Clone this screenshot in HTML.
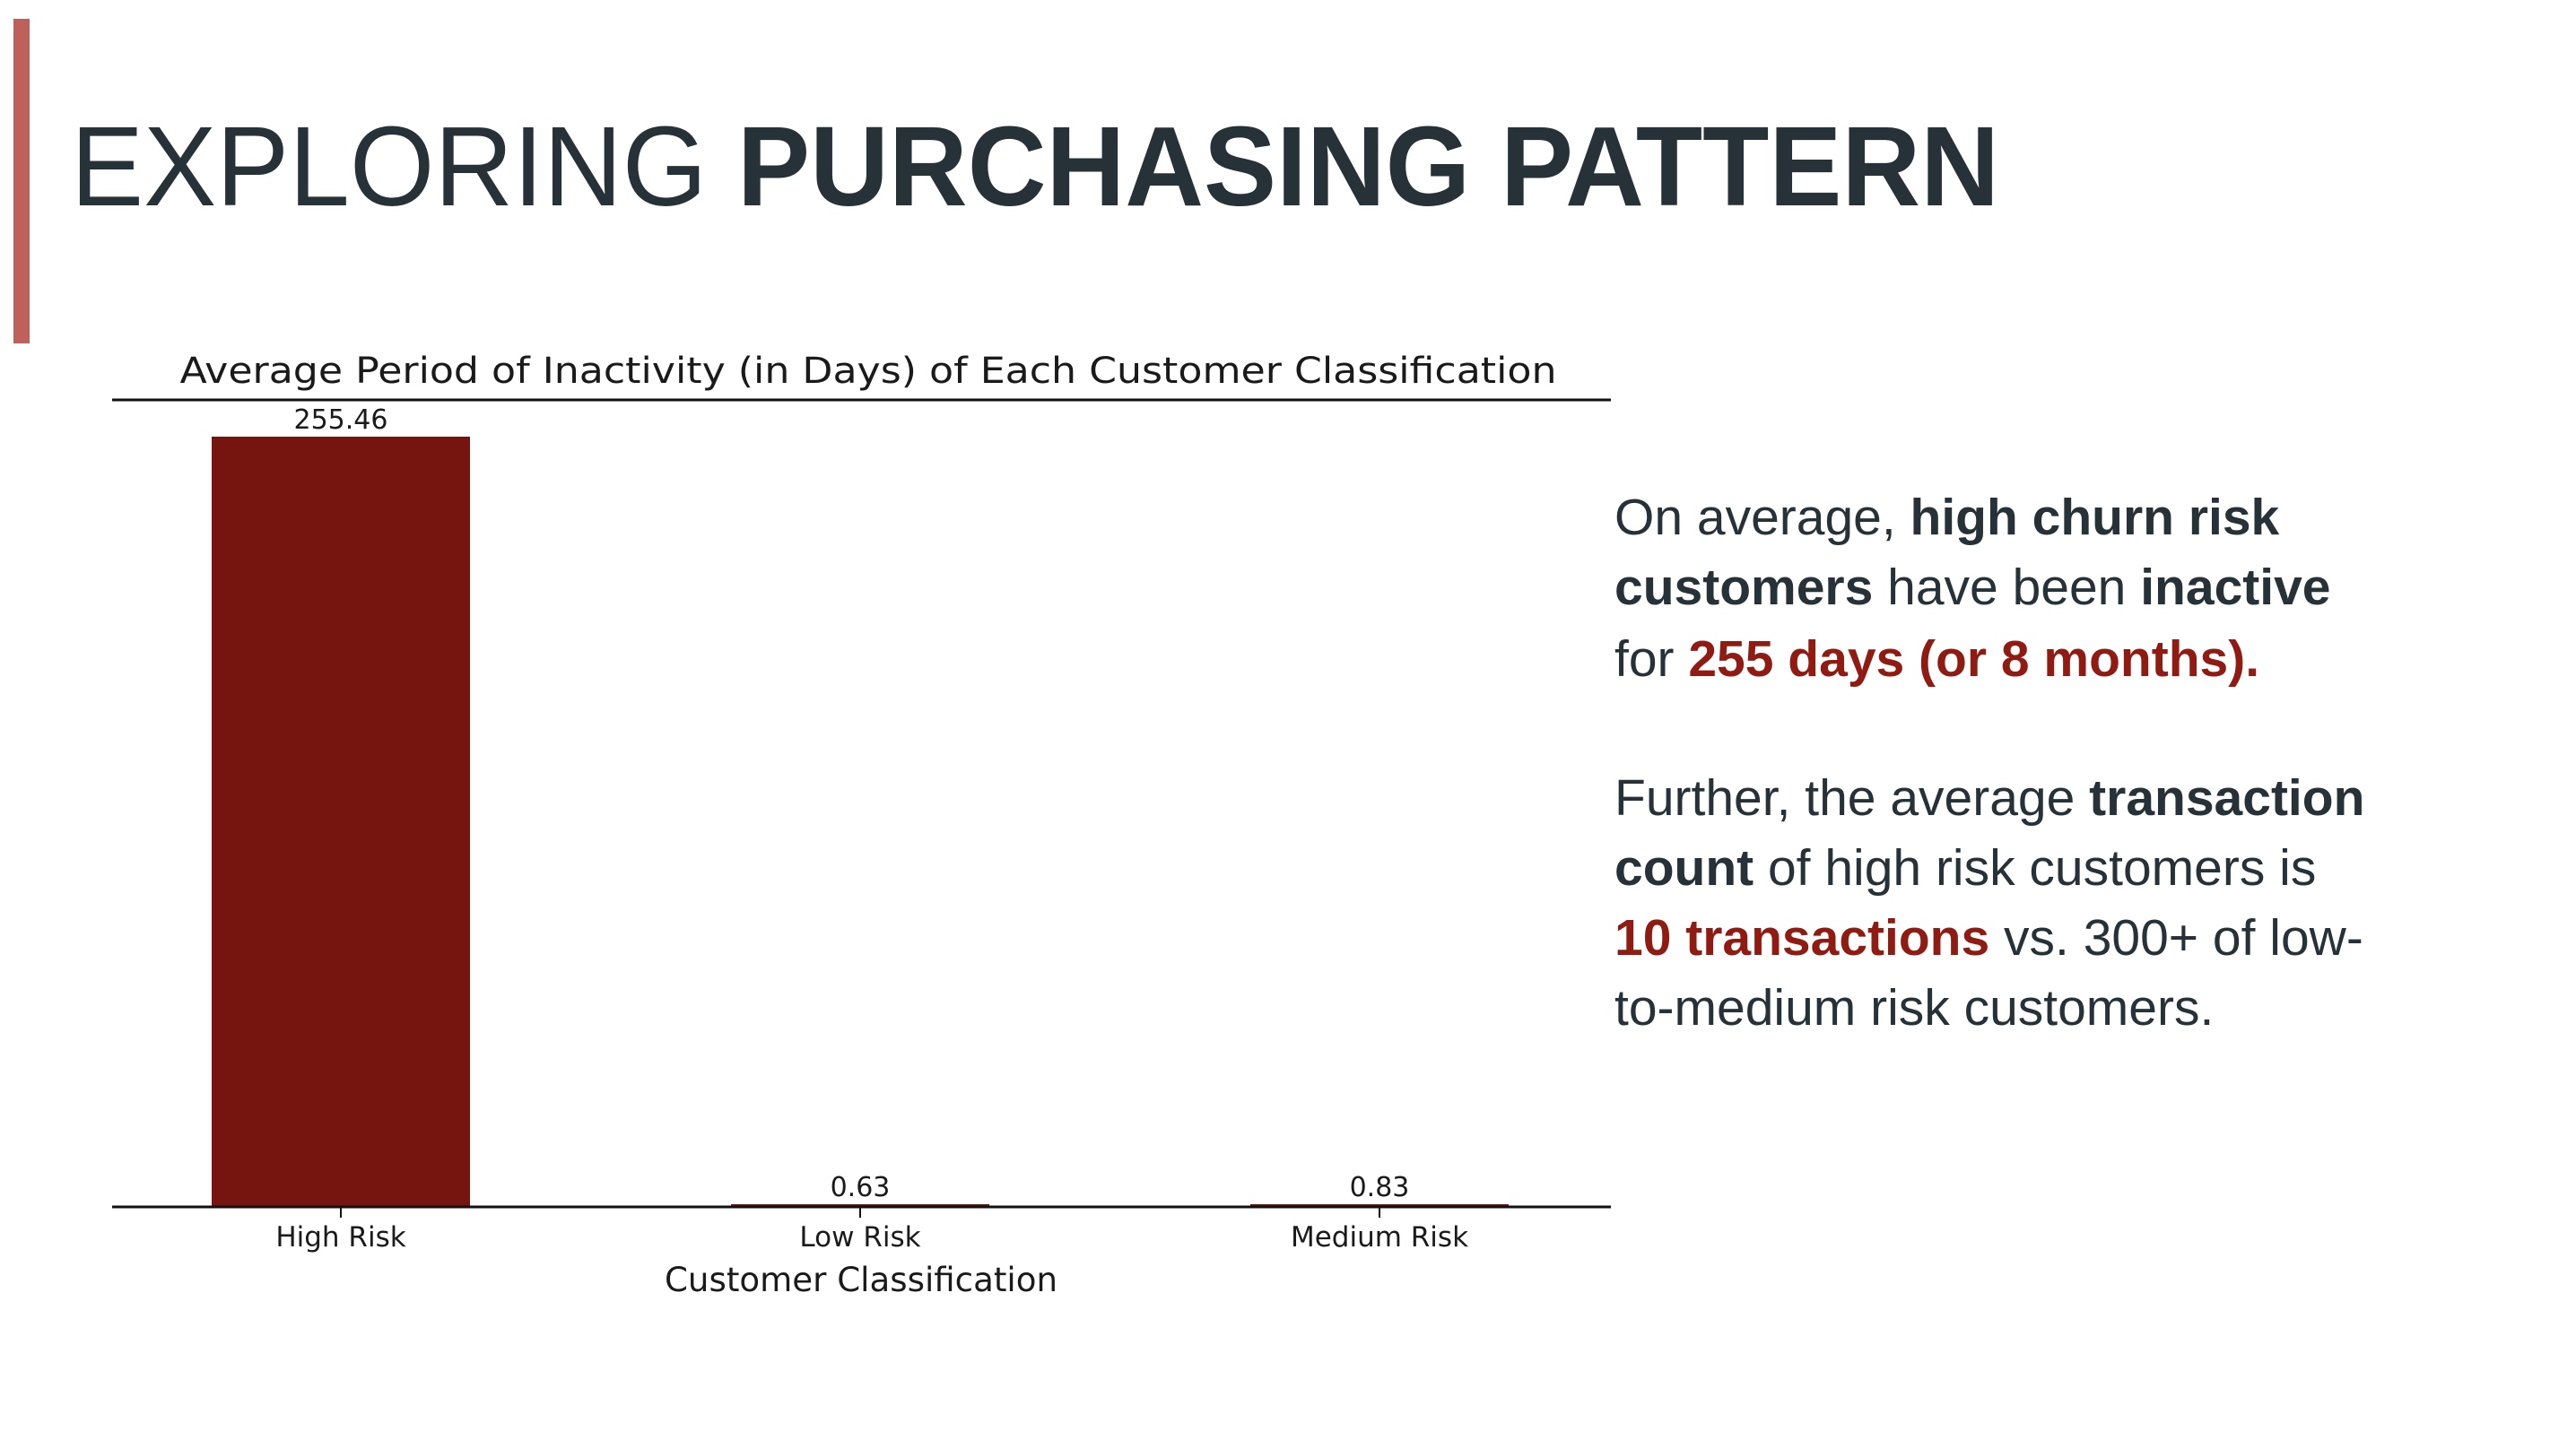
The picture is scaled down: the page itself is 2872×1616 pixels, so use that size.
<!DOCTYPE html>
<html><head><meta charset="utf-8"><style>
html,body{margin:0;padding:0;background:#fff;}
svg{display:block;}
</style></head><body>
<svg width="2872" height="1616" viewBox="0 0 2872 1616" xmlns="http://www.w3.org/2000/svg">
<rect x="0" y="0" width="2872" height="1616" fill="#ffffff"/>
<rect x="15" y="21" width="18" height="362" fill="#c0605a"/>
<text x="79" y="229" font-family="'Liberation Sans', sans-serif" font-size="126" fill="#263238" textLength="2150" lengthAdjust="spacingAndGlyphs">EXPLORING <tspan font-weight="bold">PURCHASING PATTERN</tspan></text>

<g id="chart" font-family="'DejaVu Sans', sans-serif" fill="#1a1a1a">
<text x="968" y="427" font-size="40" text-anchor="middle" textLength="1535" lengthAdjust="spacingAndGlyphs">Average Period of Inactivity (in Days) of Each Customer Classification</text>
<line x1="125" y1="446" x2="1796" y2="446" stroke="#111" stroke-width="3"/>
<g id="bars"></g>
<line x1="125" y1="1346" x2="1796" y2="1346" stroke="#111" stroke-width="3"/>
<text x="960" y="1440" font-size="37" text-anchor="middle" textLength="438" lengthAdjust="spacingAndGlyphs">Customer Classification</text>
</g>

<g font-family="'Liberation Sans', sans-serif" font-size="57" fill="#263238">
<text x="1800" y="596">On average, <tspan font-weight="bold">high churn risk</tspan></text>
<text x="1800" y="674"><tspan font-weight="bold">customers</tspan> have been <tspan font-weight="bold">inactive</tspan></text>
<text x="1800" y="754">for <tspan font-weight="bold" fill="#8f1b12">255 days (or 8 months).</tspan></text>
<text x="1800" y="909">Further, the average <tspan font-weight="bold">transaction</tspan></text>
<text x="1800" y="987"><tspan font-weight="bold">count</tspan> of high risk customers is</text>
<text x="1800" y="1065"><tspan font-weight="bold" fill="#8f1b12">10 transactions</tspan> vs. 300+ of low-</text>
<text x="1800" y="1143">to-medium risk customers.</text>
</g>
</svg>
<script>
const categories = ["High Risk", "Low Risk", "Medium Risk"];
const values = [255.46, 0.63, 0.83];
const valueLabels = ["255.46", "0.63", "0.83"];

const NS = "http://www.w3.org/2000/svg";
const baseY = 1346, topY = 487;
const yMax = 255.46;
function yScale(v){ return baseY - (v / yMax) * (baseY - topY); }
function xCenter(i){ return 380 + (1538 - 380) / (categories.length - 1) * i; }
const barW = 288;
const g = document.getElementById('bars');
categories.forEach((c, i) => {
  const cx = xCenter(i);
  const y = yScale(values[i]);
  const h = Math.max(baseY - y, 3);
  const r = document.createElementNS(NS, 'rect');
  r.setAttribute('x', cx - barW / 2);
  r.setAttribute('y', baseY - h);
  r.setAttribute('width', barW);
  r.setAttribute('height', h);
  r.setAttribute('fill', '#76150f');
  
  
  g.appendChild(r);
  const t = document.createElementNS(NS, 'text');
  t.setAttribute('x', cx);
  t.setAttribute('y', baseY - h - 9);
  t.setAttribute('font-size', '30');
  t.setAttribute('text-anchor', 'middle');
  t.textContent = valueLabels[i];
  
  
  g.appendChild(t);
  const tk = document.createElementNS(NS, 'line');
  tk.setAttribute('x1', cx); tk.setAttribute('x2', cx);
  tk.setAttribute('y1', baseY); tk.setAttribute('y2', baseY + 12);
  tk.setAttribute('stroke', '#111'); tk.setAttribute('stroke-width', '2');
  
  
  g.appendChild(tk);
  const lb = document.createElementNS(NS, 'text');
  lb.setAttribute('x', cx);
  lb.setAttribute('y', 1390);
  lb.setAttribute('font-size', '31');
  lb.setAttribute('text-anchor', 'middle');
  lb.textContent = c;
  
  
  g.appendChild(lb);
});
</script>
</body></html>
